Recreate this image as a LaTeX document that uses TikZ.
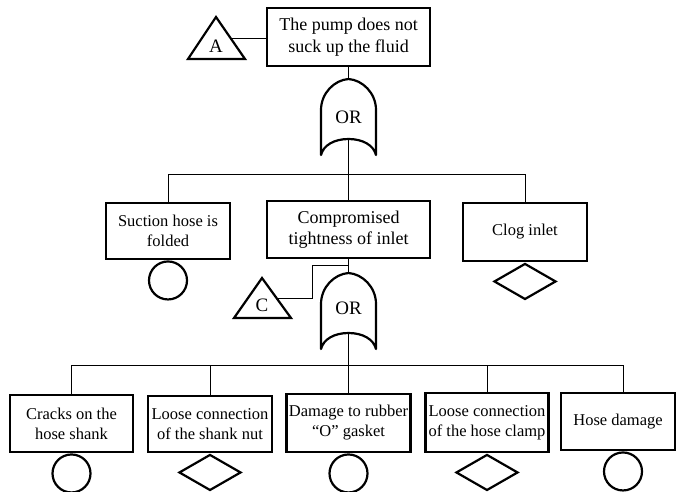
\documentclass[tikz,border=0pt]{standalone}
\usepackage{fontspec}
\setmainfont{Liberation Serif}
\usetikzlibrary{shapes.geometric}
\begin{document}
\begin{tikzpicture}[x=1pt,y=-1pt,
  box/.style={draw,line width=2.7pt,align=center,inner sep=0pt,font=\fontsize{16.5}{20}\selectfont},
  conn/.style={line width=1pt},
  sym/.style={draw,line width=2.2pt,inner sep=0pt},
  basic/.style={sym,circle,minimum size=38pt,anchor=north},
  undev/.style={sym,diamond,minimum width=62pt,minimum height=36pt,anchor=north},
  lbl/.style={inner sep=0pt,font=\fontsize{19}{20}\selectfont},
  orgate/.pic={
    \draw[line width=2.2pt,line join=round]
      (0,-38) .. controls (14,-37) and (27.5,-24) .. (27.5,-7)
      -- (27.5,38) .. controls (25,28) and (14,22) .. (0,22)
      .. controls (-14,22) and (-25,28) .. (-27.5,38)
      -- (-27.5,-7) .. controls (-27.5,-24) and (-14,-37) .. (0,-38);
  }]
\useasboundingbox (0,0) rectangle (676,491);

% top event
\node[box,minimum width=163pt,minimum height=58pt,font=\fontsize{18}{22}\selectfont] (top) at (348.5,37) {The pump does not\\suck up the fluid};
\draw[sym] (216,17) -- (245,59) -- (188,59) -- cycle;
\node[lbl] (A) at (216,46) {A};
\coordinate (Aend) at (230,38);
\draw[conn] (Aend) -- (Aend -| top.west);

% gate 1
\pic at (348.5,117) {orgate};
\node[lbl] (g1) at (348.5,117) {OR};
\coordinate (g1top) at (348.5,79);
\coordinate (g1in) at (348.5,139);
\coordinate (h1) at (348.5,174);
\draw[conn] (top.south) -- (g1top);
\draw[conn] (g1in) -- (h1);

% middle row
\node[box,minimum width=124pt,minimum height=56pt] (suction) at (168,231) {Suction hose is\\folded};
\node[box,minimum width=163pt,minimum height=57pt,font=\fontsize{18}{21}\selectfont] (comp) at (348.5,229.5) {Compromised\\tightness of inlet};
\node[box,minimum width=124pt,minimum height=58pt] (clog) at (525,232) {Clog inlet};
\draw[conn] (h1) -| (suction.north);
\draw[conn] (h1) -| (clog.north);
\draw[conn] (h1) -- (comp.north);
\node[basic] (suctionev) at (suction.south) {};
\node[undev] (clogev) at (clog.south) {};

% transfer C
\draw[sym] (262,278) -- (291,318) -- (234,318) -- cycle;
\node[lbl] (C) at (262,305) {C};
\coordinate (Cend) at (276,298);
\coordinate (Cturn) at (312,265);
\draw[conn] (Cend) -- (Cend -| Cturn) -- (Cturn) -- (Cturn -| comp.south);

% gate 2
\pic at (348.5,311) {orgate};
\node[lbl] (g2) at (348.5,308) {OR};
\coordinate (g2top) at (348.5,273);
\coordinate (g2in) at (348.5,333);
\coordinate (h2) at (348.5,365);
\draw[conn] (comp.south) -- (g2top);
\draw[conn] (g2in) -- (h2);

% bottom row
\node[box,minimum width=123pt,minimum height=57pt] (cracks) at (71.5,423.5) {Cracks on the\\hose shank};
\node[box,minimum width=124pt,minimum height=56pt] (nut) at (210,424) {Loose connection\\of the shank nut};
\node[box,minimum width=124pt,minimum height=58pt] (gasket) at (348.5,423) {Damage to rubber\\“O” gasket};
\node[box,minimum width=123pt,minimum height=59pt] (clamp) at (487,422.5) {Loose connection\\of the hose clamp};
\node[box,minimum width=114pt,minimum height=57pt] (hose) at (618,421.5) {Hose damage};
\coordinate (hosetop) at (623,393);
\draw[conn] (h2) -| (cracks.north);
\draw[conn] (h2) -| (nut.north);
\draw[conn] (h2) -- (gasket.north);
\draw[conn] (h2) -| (clamp.north);
\draw[conn] (h2) -| (hosetop);

\node[basic] (cracksev) at (cracks.south) {};
\node[undev] (nutev) at (nut.south) {};
\node[basic] (gasketev) at (gasket.south) {};
\node[undev] (clampev) at (clamp.south) {};
\node[basic] (hoseev) at (hose.south -| hosetop) {};
\end{tikzpicture}
\end{document}
